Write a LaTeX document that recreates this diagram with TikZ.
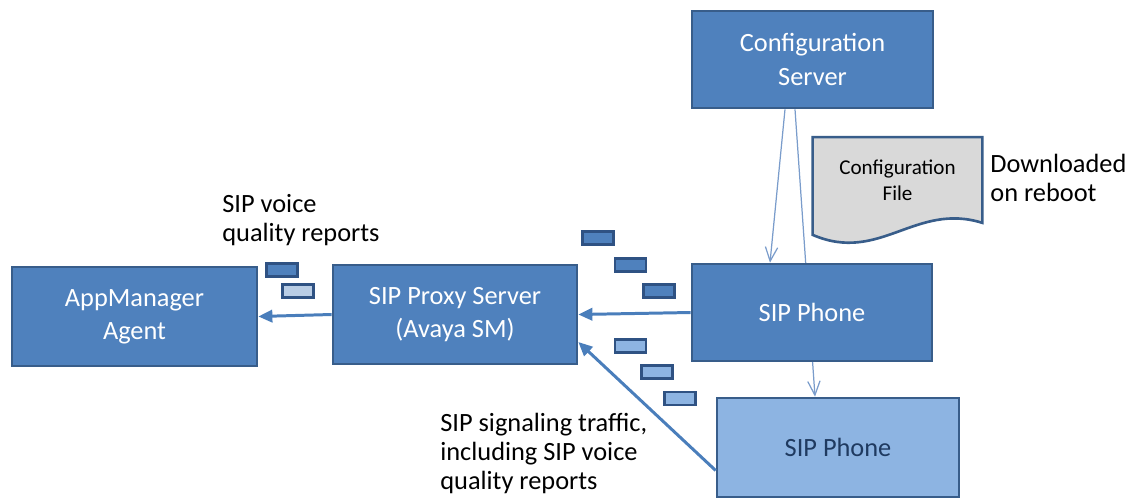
\documentclass[tikz,border=0pt]{standalone}
\usepackage{fontspec}
\setmainfont{Carlito}
\usetikzlibrary{arrows.meta,backgrounds}
\definecolor{boxblue}{HTML}{4F81BD}
\definecolor{boxline}{HTML}{385D8A}
\definecolor{phonelight}{HTML}{8DB4E2}
\definecolor{pktpale}{HTML}{B9CDE5}
\definecolor{pktdark}{HTML}{2F5283}
\definecolor{thinblue}{HTML}{7A9CCB}
\definecolor{thickblue}{HTML}{4A7EBB}
\definecolor{darktext}{HTML}{1F3A60}
\definecolor{docgray}{HTML}{D9D9D9}

\begin{document}
\begin{tikzpicture}[
		box/.style={draw=boxline, line width=1.5pt, fill=boxblue, rectangle, align=center, text=white, font=\fontsize{15}{19}\selectfont},
		packet/.style={draw=pktdark, line width=1.4pt, rectangle, inner sep=0pt, minimum width=0.62cm, minimum height=0.26cm},
		note/.style={align=left, anchor=west, inner sep=0pt, font=\fontsize{15}{16.5}\selectfont},
		thin/.style={draw=thinblue, line width=0.7pt, -{Straight Barb[length=8pt, width=7pt]}},
		thick/.style={draw=thickblue, line width=1.7pt, -{Triangle[length=8pt, width=7pt]}}]
				\useasboundingbox (0, 0) rectangle (22.68, -10.04);
				\node[box, minimum width=4.82cm, minimum height=1.94cm] (cfgsrv)at(16.25, -1.19) {Configuration\\Server};
				\node[box, minimum width=4.9cm, minimum height=1.98cm] (appmgr)at(2.69, -6.33) {AppManager\\Agent};
				\node[box, minimum width=4.88cm, minimum height=1.98cm] (proxy)at(9.10, -6.29) {SIP Proxy Server\\(Avaya SM)};
				\node[box, minimum width=4.8cm, minimum height=1.94cm] (phone1)at(16.24, -6.25) {SIP Phone};
				\node[box, fill=phonelight, text=darktext, minimum width=4.84cm, minimum height=1.98cm] (phone2)at(16.76, -8.95) {SIP Phone};
				\node[minimum width=3.38cm, minimum height=1.7cm, align=center, font=\fontsize{12}{15}\selectfont] (cfgfile)at(17.95, -3.6) {Configuration\\File};
				\begin{pgfonlayer}{background}
				\draw[boxline, line width=1.5pt, fill=docgray] (cfgfile.north west) -- (cfgfile.north east) -- (cfgfile.south east) .. controls ([xshift=-1.34cm, yshift=0.42cm]cfgfile.south east) and ([xshift=1.34cm, yshift=-0.82cm]cfgfile.south west) .. ([yshift=-0.24cm]cfgfile.south west) -- cycle;
				\draw[thin] ([xshift=-0.35cm]cfgsrv.south) -- ([xshift=-0.46cm]phone2.north);
				\end{pgfonlayer}
				\node[note] (reboot)at(19.8, -3.56) {Downloaded\\on reboot};
				\node[note] (vqr)at(4.44, -4.40) {SIP voice\\quality reports};
				\node[note] (sig)at(8.8, -9.06) {SIP signaling traffic,\\including SIP voice\\quality reports};
				\node[packet, fill=boxblue] (pa)at(5.64, -5.40) {};
				\node[packet, fill=pktpale] (pb)at(5.96, -5.82) {};
				\node[packet, fill=boxblue] (q1)at(11.96, -4.76) {};
				\node[packet, fill=boxblue] (q2)at(12.61, -5.30) {};
				\node[packet, fill=boxblue] (q3)at(13.18, -5.82) {};
				\node[packet, fill=phonelight] (r1)at(12.61, -6.92) {};
				\node[packet, fill=phonelight] (r2)at(13.14, -7.44) {};
				\node[packet, fill=phonelight] (r3)at(13.60, -7.97) {};
				\draw[thin] ([xshift=-0.55cm]cfgsrv.south) -- ([xshift=-0.84cm]phone1.north);
				\draw[thick] (phone1.west) -- (proxy.east);
				\draw[thick] (proxy.west) -- (appmgr.east);
				\draw[thick] ([yshift=-0.46cm]phone2.west) -- ([yshift=-0.55cm]proxy.east);
			\end{tikzpicture}
\end{document}
